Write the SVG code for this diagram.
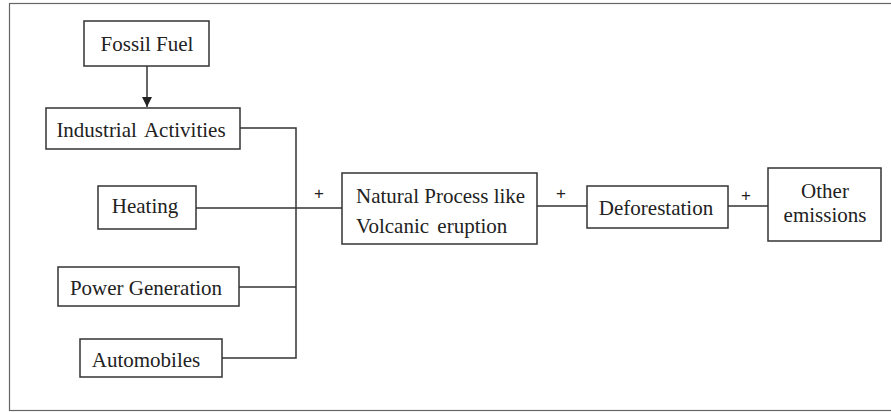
<svg xmlns="http://www.w3.org/2000/svg" width="891" height="412" viewBox="0 0 891 412">
<style>
.box{fill:#fff;stroke:#333;stroke-width:1.5}
.t{font-family:"Liberation Serif","Times New Roman",serif;font-size:21px;fill:#222}
.c{text-anchor:middle}
.ln{fill:none;stroke:#333;stroke-width:1.5}
.p{font-family:"Liberation Sans",Arial,sans-serif;font-size:17px;fill:#222;text-anchor:middle}
</style>
<defs>
<marker id="ah" markerWidth="10" markerHeight="10" refX="10" refY="5" orient="auto" markerUnits="userSpaceOnUse">
<path d="M0,0 L10,5 L0,10 Z" fill="#222"/>
</marker>
</defs>
<rect width="891" height="412" fill="#fff"/>
<rect x="9.5" y="3.5" width="886" height="407" fill="none" stroke="#666" stroke-width="1.2"/>
<g id="connectors">
<line class="ln" x1="147" y1="66" x2="147" y2="107" marker-end="url(#ah)"/>
<polyline class="ln" points="240,128 296,128 296,358 222,358"/>
<line class="ln" x1="196" y1="208" x2="342" y2="208"/>
<line class="ln" x1="239" y1="287" x2="296" y2="287"/>
<line class="ln" x1="537" y1="206" x2="587" y2="206"/>
<line class="ln" x1="728" y1="206" x2="768" y2="206"/>
<text class="p" x="319" y="199">+</text>
<text class="p" x="561" y="199">+</text>
<text class="p" x="746" y="201">+</text>
</g>
<g id="fossil"><rect class="box" x="84" y="21" width="125" height="45"/><text class="t c" x="147" y="51">Fossil Fuel</text></g>
<g id="industrial"><rect class="box" x="46" y="108" width="194" height="41"/><text class="t c" x="141" y="137" word-spacing="3">Industrial Activities</text></g>
<g id="heating"><rect class="box" x="98" y="186" width="98" height="43"/><text class="t c" x="145" y="213">Heating</text></g>
<g id="power"><rect class="box" x="58" y="267" width="181" height="39"/><text class="t c" x="146" y="295">Power Generation</text></g>
<g id="auto"><rect class="box" x="80" y="339" width="142" height="38"/><text class="t c" x="146" y="367">Automobiles</text></g>
<g id="natural"><rect class="box" x="342" y="173" width="195" height="71"/><text class="t" x="356" y="203">Natural Process like</text><text class="t" x="356" y="233" word-spacing="3">Volcanic eruption</text></g>
<g id="deforest"><rect class="box" x="587" y="186" width="141" height="42"/><text class="t c" x="656" y="215">Deforestation</text></g>
<g id="other"><rect class="box" x="768" y="168" width="113" height="73"/><text class="t c" x="825" y="198">Other</text><text class="t c" x="825" y="222">emissions</text></g>
</svg>
